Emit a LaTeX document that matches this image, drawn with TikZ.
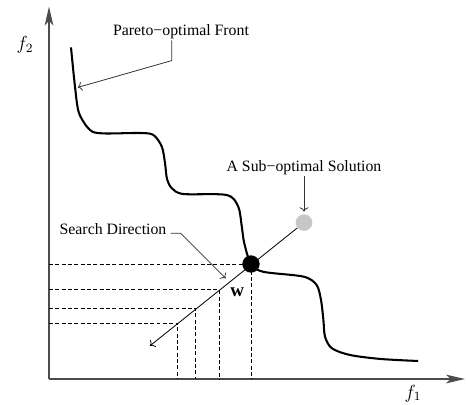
\documentclass[tikz,border=0pt]{standalone}
\usepackage{fontspec}
\setmainfont{Liberation Serif}
\usetikzlibrary{arrows.meta}

\begin{document}
\begin{tikzpicture}[x=0.889cm,y=0.889cm,
        axis/.style={black!70,line width=0.8pt,-{Stealth[length=12pt,width=5.5pt,inset=3pt]}},
        front/.style={line width=1.3pt},
        proj/.style={dash pattern=on 2.5pt off 1.5pt,line width=0.5pt},
        lead/.style={->,line width=0.5pt,black!80},
        lbl/.style={inner sep=0.5pt,anchor=base},
        dot/.style={circle,inner sep=0pt,minimum size=#1}]
        \useasboundingbox (-1.225,-0.625) rectangle (10.425,9.475);
        \coordinate (o) at (0,0);
        % axes
        \draw[axis] (o) -- (10.4,0);
        \draw[axis] (o) -- (0,9.31);
        \node[font=\large,inner sep=0pt] (f1) at (9.1,-0.36) {$f_1$};
        \node[font=\large] (f2) at (-0.6,8.35) {$f_2$};
        % the front
        \draw[front] plot[smooth,tension=0.5] coordinates {(0.55,8.29) (0.65,7.31) (0.75,6.65) (1.025,6.225)
            (1.35,6.14) (2.275,6.15) (2.61,6.1) (2.82,5.81) (2.9,5.4) (2.95,5.0) (3.07,4.77) (3.36,4.625)
            (4.44,4.6) (4.73,4.31) (4.82,3.81) (4.88,3.4) (5.05,2.875) (5.36,2.68) (6.36,2.56) (6.69,2.35)
            (6.8,1.975) (6.86,1.475) (6.9,1.06) (7.07,0.77) (7.525,0.6) (8.3,0.5) (9.23,0.45)};
        % search direction
        \coordinate (dirend) at (2.525,0.83);
        \coordinate (w1) at (4.25,2.235);
        \coordinate (w2) at (3.6675,1.769);
        \coordinate (w3) at (3.2075,1.401);
        \node[dot=0.369cm,fill=black!22] (sub) at (6.375,3.91) {};
        \draw[->,line width=0.5pt] (sub) -- (dirend);
        \foreach \p in {w1,w2,w3}
            \draw[proj] (o |- \p) -- (\p) -- (\p |- o);
        \coordinate (c) at (5.05,2.875);
        \draw[proj] (o |- c) -- (c) -- (c |- o);
        \node[dot=0.385cm,fill=black] (opt) at (c) {};
        \node[font=\large] (wl) at (4.7075,2.18) {$\mathbf{w}$};
        % labels
        \node[lbl] (pf) at (3.3,8.575) {Pareto−optimal Front};
        \coordinate (pfa) at (3.0675,7.96);
        \coordinate (pft) at (0.72,7.29);
        \draw[lead] (pfa |- pf.south) -- (pfa) -- (pft);
        \node[lbl] (so) at (6.375,5.18) {A Sub−optimal Solution};
        \draw[lead,shorten >=1.5pt] (so) -- (sub);
        \node[lbl] (sd) at (1.6,3.6) {Search Direction};
        \coordinate (sdt) at (4.4175,2.5175);
        \draw[lead] ([xshift=2pt,yshift=1.1pt]sd.base east) -- ++(0.25,0) -- (sdt);
\end{tikzpicture}
\end{document}
